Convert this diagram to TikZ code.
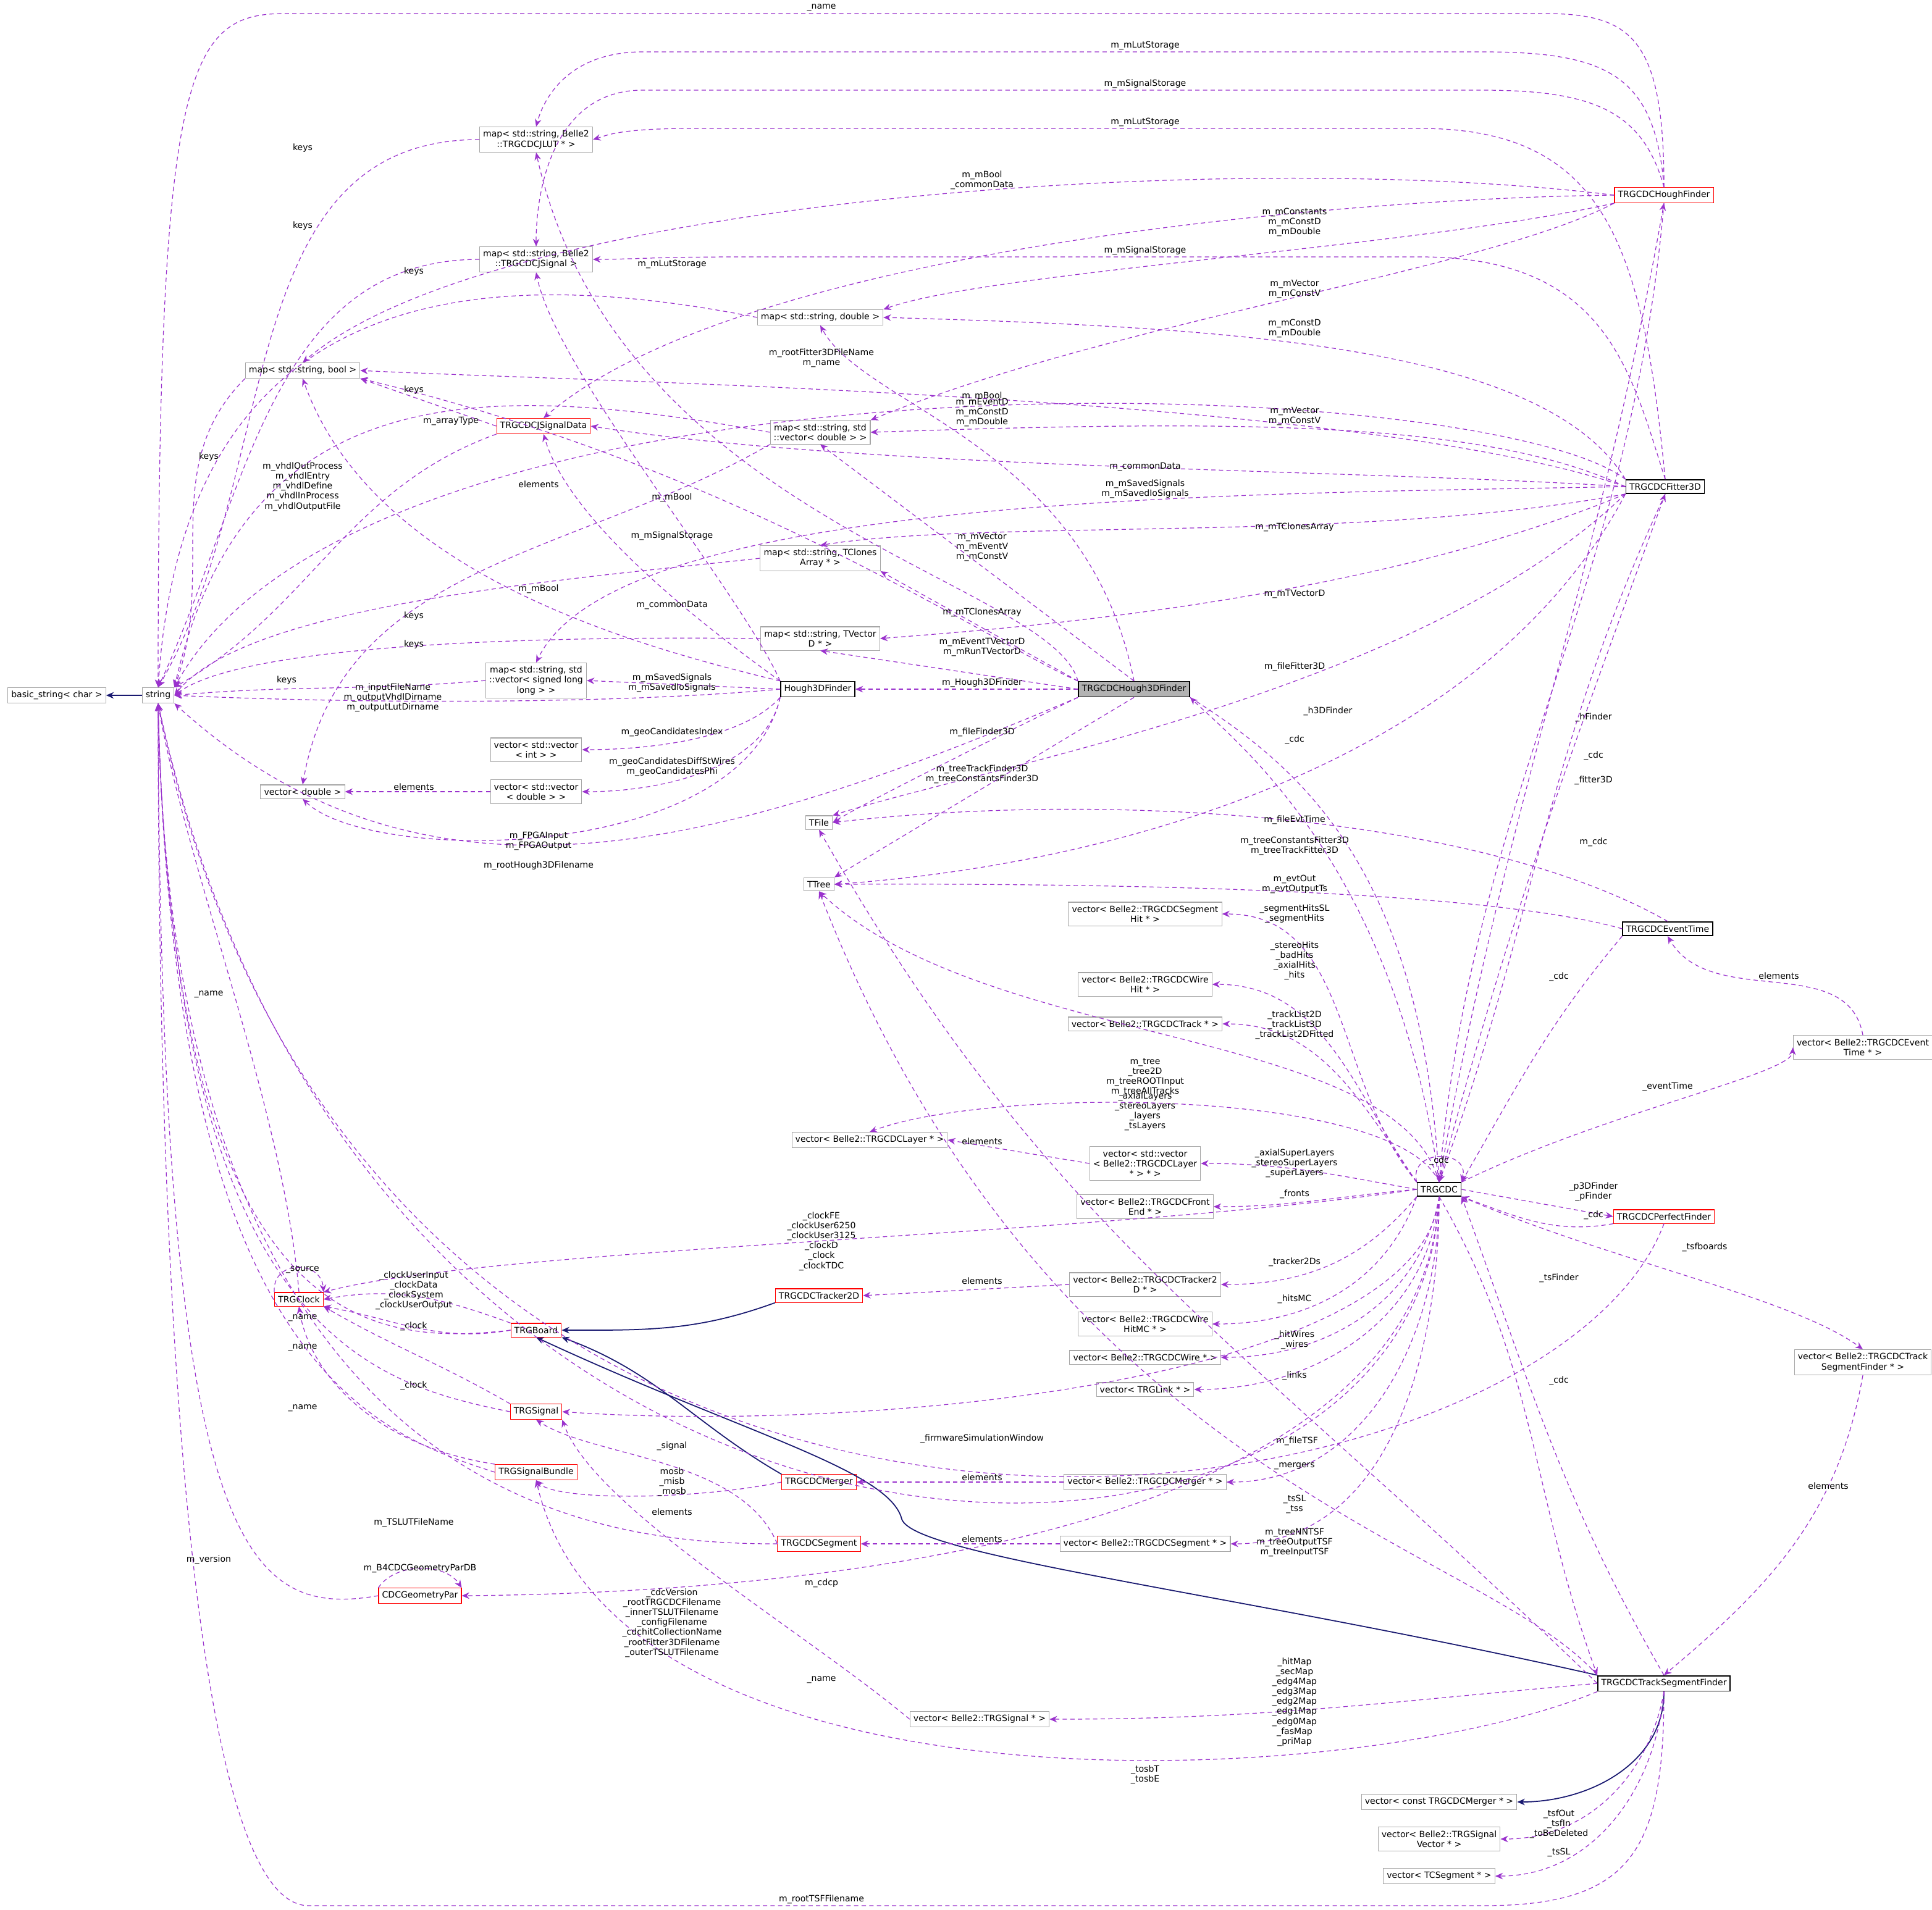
\documentclass[tikz,border=0pt]{standalone}
\usepackage{fontspec}
\setmainfont{DejaVu Sans}
\usetikzlibrary{arrows.meta}
\definecolor{ec}{HTML}{9A32CD}
\definecolor{nb}{HTML}{191970}
\begin{document}
\begin{tikzpicture}[x=0.02cm,y=-0.02cm,
 every node/.style={font=\fontsize{4}{4.6}\selectfont},
 bx/.style={draw=gray!70,fill=white,inner sep=1.6pt,align=center,line width=0.3pt},
 rb/.style={bx,draw=red},
 kb/.style={bx,draw=black,line width=0.5pt},
 lb/.style={align=center,inner sep=0.5pt},
 e/.style={draw=ec,dashed,dash pattern=on 2pt off 1.5pt,line width=0.35pt,-{Stealth[length=3.5pt,width=3pt]}},
 ih/.style={draw=nb,line width=0.5pt,-{Stealth[length=3.5pt,width=3pt]}}]
\useasboundingbox (0,0) rectangle (1564,1546);
% nodes
\node[bx] (bs) at (46,563) {basic\_string< char >};
\node[bx] (str) at (128,563) {string};
\node[bx] (mjl) at (434,113) {map< std::string, Belle2\\::TRGCDCJLUT * >};
\node[bx] (mjs) at (434,210) {map< std::string, Belle2\\::TRGCDCJSignal >};
\node[bx] (md) at (664,257) {map< std::string, double >};
\node[bx] (mb) at (245,300) {map< std::string, bool >};
\node[rb] (jsd) at (440,345) {TRGCDCJSignalData};
\node[bx] (mvd) at (664,350) {map< std::string, std\\::vector< double > >};
\node[bx] (mtc) at (664,452) {map< std::string, TClones\\Array * >};
\node[bx] (mtv) at (664,517) {map< std::string, TVector\\D * >};
\node[bx] (msl) at (434,551) {map< std::string, std\\::vector< signed long\\long > >};
\node[kb] (h3) at (662,558) {Hough3DFinder};
\node[kb,fill=gray!60] (h3d) at (918,558) {TRGCDCHough3DFinder};
\node[bx] (vvi) at (434,607) {vector< std::vector\\< int > >};
\node[bx] (vd) at (245,641) {vector< double >};
\node[bx] (vvd) at (434,641) {vector< std::vector\\< double > >};
\node[bx] (tf) at (663,666) {TFile};
\node[bx] (tt) at (663,716) {TTree};
\node[rb] (hf) at (1347,158) {TRGCDCHoughFinder};
\node[kb] (f3) at (1348,394) {TRGCDCFitter3D};
\node[kb] (et) at (1350,752) {TRGCDCEventTime};
\node[bx] (vet) at (1508,848) {vector< Belle2::TRGCDCEvent\\Time * >};
\node[kb] (cdc) at (1165,963) {TRGCDC};
\node[rb] (pf) at (1347,985) {TRGCDCPerfectFinder};
\node[bx] (vtsf) at (1508,1103) {vector< Belle2::TRGCDCTrack\\SegmentFinder * >};
\node[kb] (tsf) at (1347,1363) {TRGCDCTrackSegmentFinder};
\node[bx] (vsh) at (927,740) {vector< Belle2::TRGCDCSegment\\Hit * >};
\node[bx] (vwh) at (927,797) {vector< Belle2::TRGCDCWire\\Hit * >};
\node[bx] (vtr) at (927,829) {vector< Belle2::TRGCDCTrack * >};
\node[bx] (vl) at (704,923) {vector< Belle2::TRGCDCLayer * >};
\node[bx] (vvl) at (927,942) {vector< std::vector\\< Belle2::TRGCDCLayer\\ * > * >};
\node[bx] (vfe) at (927,977) {vector< Belle2::TRGCDCFront\\End * >};
\node[bx] (vt2) at (927,1040) {vector< Belle2::TRGCDCTracker2\\D * >};
\node[bx] (vwmc) at (927,1072) {vector< Belle2::TRGCDCWire\\HitMC * >};
\node[bx] (vw) at (927,1099) {vector< Belle2::TRGCDCWire * >};
\node[bx] (vlk) at (927,1125) {vector< TRGLink * >};
\node[bx] (vm) at (927,1200) {vector< Belle2::TRGCDCMerger * >};
\node[bx] (vs) at (927,1250) {vector< Belle2::TRGCDCSegment * >};
\node[rb] (clk) at (242,1052) {TRGClock};
\node[rb] (brd) at (434,1077) {TRGBoard};
\node[rb] (t2) at (663,1049) {TRGCDCTracker2D};
\node[rb] (sig) at (434,1143) {TRGSignal};
\node[rb] (sb) at (434,1192) {TRGSignalBundle};
\node[rb] (mg) at (663,1200) {TRGCDCMerger};
\node[rb] (sg) at (663,1250) {TRGCDCSegment};
\node[rb] (geo) at (340,1292) {CDCGeometryPar};
\node[bx] (vsig) at (793,1392) {vector< Belle2::TRGSignal * >};
\node[bx] (vcm) at (1165,1459) {vector< const TRGCDCMerger * >};
\node[bx] (vsv) at (1165,1489) {vector< Belle2::TRGSignal\\Vector * >};
\node[bx] (vtc) at (1165,1519) {vector< TCSegment * >};
% inheritance
\draw[ih] (str) -- (bs);
\draw[ih] (t2.south west) to[out=200,in=0] (brd.east);
\draw[ih] (mg.north west) to[out=150,in=-20] (brd.south east);
\draw[ih] (tsf.north west) .. controls (1000,1290) and (740,1260) .. (730,1230) .. controls (720,1190) and (600,1160) .. (brd.south);
\draw[ih] (tsf.south) to[out=-90,in=0] (vcm.east);
% keys
\draw[e] (mjl.west) to[out=180,in=60] (str.north);
\draw[e] (mjs.west) to[out=180,in=65] (str.north);
\draw[e] (md.west) .. controls (400,215) and (150,220) .. (str.north);
\draw[e] (mb.south west) to[out=225,in=70] (str.north east);
\draw[e] (mvd.west) .. controls (400,310) and (200,300) .. (str.north east);
\draw[e] (mtc.west) .. controls (450,470) and (200,490) .. (str.east);
\draw[e] (mtv.west) .. controls (450,515) and (200,520) .. (str.east);
\draw[e] (msl.west) to[out=185,in=5] (str.east);
\draw[e] (mvd.south west) to[out=210,in=80] (vd.north);
\draw[e] (vvd.west) -- (vd.east);
\draw[e] (jsd.west) -- (mb.south east);
\draw[e] (jsd.south west) to[out=200,in=30] (str.north east);
% HoughFinder
\draw[e] (hf.north) .. controls (1347,30) and (1320,11) .. (1250,11) -- (230,11) .. controls (150,11) and (128,60) .. (str.north);
\draw[e] (hf.north) .. controls (1340,60) and (1300,42) .. (1200,42) -- (520,42) .. controls (460,42) and (440,80) .. (mjl.north);
\draw[e] (hf.north) .. controls (1330,90) and (1290,73) .. (1200,73) -- (520,73) .. controls (450,73) and (434,150) .. (mjs.north);
\draw[e] (hf.west) .. controls (1000,120) and (400,160) .. (mb.north);
\draw[e] (hf.west) .. controls (1100,160) and (600,200) .. (jsd.north);
\draw[e] (hf.south west) .. controls (1150,200) and (800,220) .. (md.north east);
\draw[e] (hf.south west) .. controls (1200,220) and (900,260) .. (mvd.north east);
% Fitter3D
\draw[e] (f3.north) .. controls (1330,200) and (1300,104) .. (1150,104) -- (560,104) .. controls (500,104) and (490,110) .. (mjl.east);
\draw[e] (f3.north) .. controls (1320,300) and (1300,208) .. (1150,208) -- (600,208) .. controls (530,208) and (510,210) .. (mjs.east);
\draw[e] (f3.north west) .. controls (1250,280) and (1000,265) .. (md.east);
\draw[e] (f3.north west) .. controls (1200,300) and (300,270) .. (str.north east);
\draw[e] (f3.west) .. controls (1100,320) and (500,310) .. (mb.east);
\draw[e] (f3.west) .. controls (1200,340) and (1000,340) .. (mvd.east);
\draw[e] (f3.west) .. controls (1100,380) and (700,380) .. (jsd.east);
\draw[e] (f3.west) .. controls (1000,400) and (500,400) .. (msl.north);
\draw[e] (f3.south west) .. controls (1100,440) and (800,420) .. (mtc.north);
\draw[e] (f3.south west) .. controls (1100,490) and (800,510) .. (mtv.east);
\draw[e] (f3.south west) .. controls (1150,560) and (800,620) .. (tf.north east);
\draw[e] (f3.south west) .. controls (1200,620) and (900,700) .. (tt.east);
% H3D
\draw[e] (h3d.north west) .. controls (850,470) and (500,420) .. (mjl.south);
\draw[e] (h3d.north) .. controls (880,360) and (700,330) .. (md.south);
\draw[e] (h3d.north) -- (mvd.south);
\draw[e] (h3d.north west) -- (mtc.south east);
\draw[e] (h3d.west) -- (mtv.south);
\draw[e] (h3d.north west) .. controls (800,520) and (600,380) .. (mb.south east);
\draw[e] (h3d.west) -- (h3.east);
\draw[e] (h3d.south west) .. controls (800,600) and (700,650) .. (tf.east);
\draw[e] (h3d.south) -- (tt.north east);
\draw[e] (h3d.south west) .. controls (600,680) and (350,760) .. (str.south east);
% Hough3DFinder
\draw[e] (h3.north west) .. controls (600,480) and (450,300) .. (mjs.south);
\draw[e] (h3.north west) .. controls (560,500) and (460,420) .. (jsd.south);
\draw[e] (h3.north west) .. controls (500,520) and (300,460) .. (mb.south);
\draw[e] (h3.west) -- (msl.east);
\draw[e] (h3.west) .. controls (500,570) and (300,570) .. (str.east);
\draw[e] (h3.south west) .. controls (600,600) and (520,607) .. (vvi.east);
\draw[e] (h3.south west) .. controls (620,620) and (540,641) .. (vvd.east);
\draw[e] (h3.south west) .. controls (600,700) and (300,700) .. (vd.south);
% TRGClock etc
\draw[e] (clk.north) .. controls (230,900) and (150,700) .. (str.south);
\draw[e] (clk.north west) .. controls (220,1020) and (260,1020) .. (clk.north east);
\draw[e] (brd.west) .. controls (300,1090) and (140,1080) .. (str.south);
\draw[e] (brd.north west) to[out=160,in=10] (clk.east);
\draw[e] (brd.west) to[out=190,in=-10] (clk.south east);
\draw[e] (sig.west) .. controls (300,1120) and (140,1080) .. (str.south);
\draw[e] (sig.north west) to[out=150,in=-30] (clk.south east);
\draw[e] (sb.west) .. controls (300,1160) and (140,1100) .. (str.south);
\draw[e] (sb.north west) .. controls (300,1170) and (250,1110) .. (clk.south);
\draw[e] (mg.west) .. controls (560,1215) and (450,1215) .. (sb.south);
\draw[e] (sg.west) .. controls (600,1180) and (480,1180) .. (sig.south);
\draw[e] (sg.west) .. controls (500,1250) and (140,1230) .. (str.south);
\draw[e] (geo.north west) .. controls (320,1265) and (360,1265) .. (geo.north east);
\draw[e] (geo.west) .. controls (200,1310) and (130,1260) .. (str.south);
\draw[e] (vsig.west) .. controls (650,1320) and (480,1220) .. (sig.south east);
\draw[e] (vt2.west) -- (t2.east);
\draw[e] (vm.west) -- (mg.east);
\draw[e] (vs.west) -- (sg.east);
\draw[e] (vvl.west) -- (vl.east);
\draw[e] (vet.north) to[out=100,in=-60] (et.south);
\draw[e] (vtsf.south) to[out=-100,in=40] (tsf.north);
% TRGCDC
\draw[e] (cdc.north west) to[out=130,in=0] (vsh.east);
\draw[e] (cdc.north west) to[out=125,in=0] (vwh.east);
\draw[e] (cdc.north west) to[out=125,in=0] (vtr.east);
\draw[e] (cdc.north) .. controls (1130,830) and (800,850) .. (tt.south);
\draw[e] (cdc.north) .. controls (1130,880) and (800,880) .. (vl.north);
\draw[e] (cdc.west) to[out=170,in=0] (vvl.east);
\draw[e] (cdc.west) to[out=185,in=0] (vfe.east);
\draw[e] (cdc.west) .. controls (900,1000) and (400,1010) .. (clk.north east);
\draw[e] (cdc.south west) to[out=-130,in=0] (vt2.east);
\draw[e] (cdc.south west) to[out=-110,in=0] (vwmc.east);
\draw[e] (cdc.south) to[out=-100,in=0] (vw.east);
\draw[e] (cdc.south) to[out=-95,in=0] (vlk.east);
\draw[e] (cdc.south) .. controls (1150,1120) and (700,1160) .. (sig.east);
\draw[e] (cdc.south) to[out=-90,in=0] (vm.east);
\draw[e] (cdc.south) to[out=-90,in=0] (vs.east);
\draw[e] (cdc.south) .. controls (1150,1260) and (600,1290) .. (geo.east);
\draw[e] (cdc.south) .. controls (1150,1340) and (300,1360) .. (str.south);
\draw[e] (cdc.north east) .. controls (1300,900) and (1450,870) .. (vet.west);
\draw[e] (cdc.east) -- (pf.west);
\draw[e] (pf.south west) to[out=190,in=-20] (cdc.south east);
\draw[e] (cdc.south east) .. controls (1300,1020) and (1450,1050) .. (vtsf.north);
\draw[e] (cdc.south) to[out=-60,in=110] (tsf.north west);
\draw[e] (tsf.north) to[out=120,in=-70] (cdc.south east);
\draw[e] (et.south west) to[out=-130,in=60] (cdc.north east);
\draw[e] (et.north) .. controls (1200,660) and (900,640) .. (tf.east);
\draw[e] (et.west) .. controls (1200,720) and (900,715) .. (tt.east);
\draw[e] (cdc.north) to[out=80,in=-100] (hf.south);
\draw[e] (hf.south) to[out=-95,in=85] (cdc.north);
\draw[e] (cdc.north) to[out=75,in=-110] (f3.south);
\draw[e] (f3.south) to[out=-115,in=70] (cdc.north);
\draw[e] (cdc.north) .. controls (1130,700) and (1000,600) .. (h3d.south east);
\draw[e] (h3d.south east) .. controls (1050,620) and (1150,700) .. (cdc.north);
\draw[e] (cdc.north west) .. controls (1140,930) and (1190,930) .. (cdc.north east);
\draw[e] (pf.south) .. controls (1250,1250) and (300,1400) .. (str.south);
% TSF
\draw[e] (tsf.west) .. controls (1000,1080) and (850,1000) .. (tf.south);
\draw[e] (tsf.north west) .. controls (1200,1250) and (850,1200) .. (tt.south);
\draw[e] (tsf.west) to[out=185,in=0] (vsig.east);
\draw[e] (tsf.south west) .. controls (1100,1450) and (500,1480) .. (sb.south);
\draw[e] (tsf.south) to[out=-100,in=0] (vsv.east);
\draw[e] (tsf.south) to[out=-95,in=0] (vtc.east);
\draw[e] (tsf.south) .. controls (1347,1500) and (1320,1543) .. (1200,1543) -- (250,1543) .. controls (150,1543) and (128,1000) .. (str.south);
% labels
\node[lb] at (665,6) {\_name};
\node[lb] at (927,37) {m\_mLutStorage};
\node[lb] at (927,68) {m\_mSignalStorage};
\node[lb] at (927,99) {m\_mLutStorage};
\node[lb] at (245,120) {keys};
\node[lb] at (795,142) {m\_mBool};
\node[lb] at (795,150) {\_commonData};
\node[lb] at (1048,180) {m\_mConstants\\m\_mConstD\\m\_mDouble};
\node[lb] at (245,183) {keys};
\node[lb] at (927,203) {m\_mSignalStorage};
\node[lb] at (544,214) {m\_mLutStorage};
\node[lb] at (335,220) {keys};
\node[lb] at (1048,234) {m\_mVector\\m\_mConstV};
\node[lb] at (1048,266) {m\_mConstD\\m\_mDouble};
\node[lb] at (665,290) {m\_rootFitter3DFileName\\m\_name};
\node[lb] at (335,316) {keys};
\node[lb] at (795,321) {m\_mBool};
\node[lb] at (795,334) {m\_mEventD\\m\_mConstD\\m\_mDouble};
\node[lb] at (1048,337) {m\_mVector\\m\_mConstV};
\node[lb] at (365,341) {m\_arrayType};
\node[lb] at (169,370) {keys};
\node[lb] at (927,378) {m\_commonData};
\node[lb] at (245,394) {m\_vhdlOutProcess\\m\_vhdlEntry\\m\_vhdlDefine\\m\_vhdlInProcess\\m\_vhdlOutputFile};
\node[lb] at (436,392) {elements};
\node[lb] at (927,396) {m\_mSavedSignals\\m\_mSavedIoSignals};
\node[lb] at (544,403) {m\_mBool};
\node[lb] at (1048,427) {m\_mTClonesArray};
\node[lb] at (544,434) {m\_mSignalStorage};
\node[lb] at (795,443) {m\_mVector\\m\_mEventV\\m\_mConstV};
\node[lb] at (436,477) {m\_mBool};
\node[lb] at (1048,481) {m\_mTVectorD};
\node[lb] at (544,490) {m\_commonData};
\node[lb] at (795,496) {m\_mTClonesArray};
\node[lb] at (335,499) {keys};
\node[lb] at (335,522) {keys};
\node[lb] at (795,524) {m\_mEventTVectorD\\m\_mRunTVectorD};
\node[lb] at (1048,540) {m\_fileFitter3D};
\node[lb] at (232,551) {keys};
\node[lb] at (544,553) {m\_mSavedSignals\\m\_mSavedIoSignals};
\node[lb] at (795,553) {m\_Hough3DFinder};
\node[lb] at (318,565) {m\_inputFileName\\m\_outputVhdlDirname\\m\_outputLutDirname};
\node[lb] at (1075,576) {\_h3DFinder};
\node[lb] at (1290,581) {\_hFinder};
\node[lb] at (544,593) {m\_geoCandidatesIndex};
\node[lb] at (795,593) {m\_fileFinder3D};
\node[lb] at (1048,599) {\_cdc};
\node[lb] at (1290,612) {\_cdc};
\node[lb] at (544,621) {m\_geoCandidatesDiffStWires\\m\_geoCandidatesPhi};
\node[lb] at (795,627) {m\_treeTrackFinder3D\\m\_treeConstantsFinder3D};
\node[lb] at (1290,632) {\_fitter3D};
\node[lb] at (335,637) {elements};
\node[lb] at (1048,664) {m\_fileEvtTime};
\node[lb] at (436,681) {m\_FPGAInput\\m\_FPGAOutput};
\node[lb] at (1290,682) {m\_cdc};
\node[lb] at (1048,685) {m\_treeConstantsFitter3D\\m\_treeTrackFitter3D};
\node[lb] at (436,701) {m\_rootHough3DFilename};
\node[lb] at (1048,716) {m\_evtOut\\m\_evtOutputTs};
\node[lb] at (1048,740) {\_segmentHitsSL\\\_segmentHits};
\node[lb] at (1048,778) {\_stereoHits\\\_badHits\\\_axialHits\\\_hits};
\node[lb] at (1262,791) {\_cdc};
\node[lb] at (1440,790) {elements};
\node[lb] at (169,805) {\_name};
\node[lb] at (1048,830) {\_trackList2D\\\_trackList3D\\\_trackList2DFitted};
\node[lb] at (927,872) {m\_tree\\\_tree2D\\m\_treeROOTInput\\m\_treeAllTracks};
\node[lb] at (1350,880) {\_eventTime};
\node[lb] at (927,900) {\_axialLayers\\\_stereoLayers\\\_layers\\\_tsLayers};
\node[lb] at (795,924) {elements};
\node[lb] at (1165,940) {\_cdc};
\node[lb] at (1048,942) {\_axialSuperLayers\\\_stereoSuperLayers\\\_superLayers};
\node[lb] at (1290,965) {\_p3DFinder\\\_pFinder};
\node[lb] at (1048,967) {\_fronts};
\node[lb] at (1290,984) {\_cdc};
\node[lb] at (665,1005) {\_clockFE\\\_clockUser6250\\\_clockUser3125\\\_clockD\\\_clock\\\_clockTDC};
\node[lb] at (1380,1010) {\_tsfboards};
\node[lb] at (1048,1022) {\_tracker2Ds};
\node[lb] at (245,1028) {\_source};
\node[lb] at (1262,1035) {\_tsFinder};
\node[lb] at (795,1037) {elements};
\node[lb] at (335,1045) {\_clockUserInput\\\_clockData\\\_clockSystem\\\_clockUserOutput};
\node[lb] at (1048,1052) {\_hitsMC};
\node[lb] at (245,1067) {\_name};
\node[lb] at (335,1074) {\_clock};
\node[lb] at (1048,1085) {\_hitWires\\\_wires};
\node[lb] at (245,1091) {\_name};
\node[lb] at (1048,1114) {\_links};
\node[lb] at (1262,1118) {\_cdc};
\node[lb] at (335,1122) {\_clock};
\node[lb] at (245,1140) {\_name};
\node[lb] at (795,1165) {\_firmwareSimulationWindow};
\node[lb] at (1050,1167) {m\_fileTSF};
\node[lb] at (544,1171) {\_signal};
\node[lb] at (1048,1187) {\_mergers};
\node[lb] at (795,1196) {elements};
\node[lb] at (544,1200) {mosb\\\_misb\\\_mosb};
\node[lb] at (1480,1203) {elements};
\node[lb] at (1048,1218) {\_tsSL\\\_tss};
\node[lb] at (544,1224) {elements};
\node[lb] at (335,1233) {m\_TSLUTFileName};
\node[lb] at (795,1246) {elements};
\node[lb] at (1048,1249) {m\_treeNNTSF\\m\_treeOutputTSF\\m\_treeInputTSF};
\node[lb] at (169,1263) {m\_version};
\node[lb] at (340,1270) {m\_B4CDCGeometryParDB};
\node[lb] at (665,1282) {m\_cdcp};
\node[lb] at (544,1314) {\_cdcVersion\\\_rootTRGCDCFilename\\\_innerTSLUTFilename\\\_configFilename\\\_cdchitCollectionName\\\_rootFitter3DFilename\\\_outerTSLUTFilename};
\node[lb] at (665,1360) {\_name};
\node[lb] at (1048,1378) {\_hitMap\\\_secMap\\\_edg4Map\\\_edg3Map\\\_edg2Map\\\_edg1Map\\\_edg0Map\\\_fasMap\\\_priMap};
\node[lb] at (927,1437) {\_tosbT\\\_tosbE};
\node[lb] at (1262,1477) {\_tsfOut\\\_tsfIn\\\_toBeDeleted};
\node[lb] at (1262,1500) {\_tsSL};
\node[lb] at (665,1538) {m\_rootTSFFilename};
\end{tikzpicture}
\end{document}
